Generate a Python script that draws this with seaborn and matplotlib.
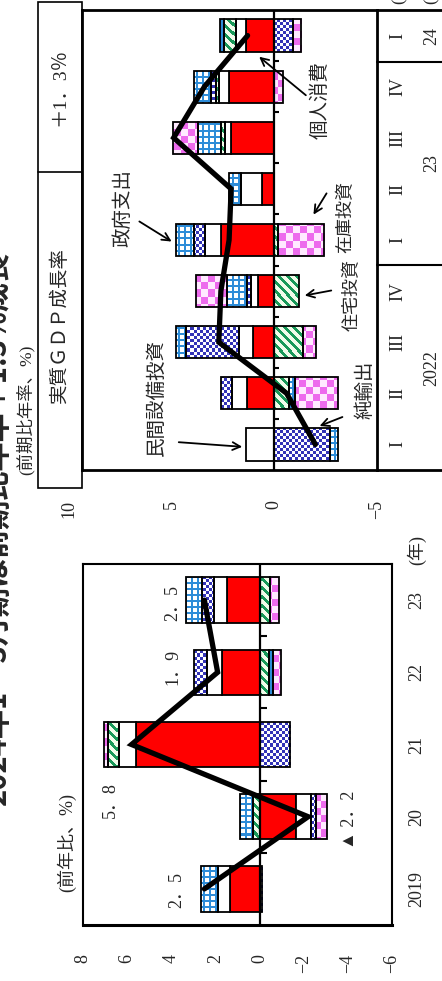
import numpy as np
import matplotlib
matplotlib.use('Agg')
import matplotlib.pyplot as plt
from matplotlib.lines import Line2D
from matplotlib.patches import Rectangle
import seaborn as sns

sns.set_theme(style='white')
plt.rcParams['font.family'] = ['Liberation Serif', 'Noto Sans CJK JP']
plt.rcParams['axes.edgecolor'] = 'black'

# ---- data (contributions to growth, %pt) ----
components = ['個人消費', '民間設備投資', '住宅投資', '純輸出', '政府支出', '在庫投資']

years = ['2019', '20', '21', '22', '23']
cons_y = [1.36, -1.66, 5.59, 1.70, 1.48]
capex_y = [0.53, -0.68, 0.76, 0.68, 0.60]
housing_y = [0.0, 0.30, 0.53, -0.41, -0.48]
netexp_y = [-0.12, -0.23, -1.36, 0.58, 0.53]
govt_y = [0.75, 0.57, 0.0, -0.21, 0.72]
inv_y = [0.0, -0.48, 0.15, -0.35, -0.38]
gdp_y = [2.5, -2.2, 5.8, 1.9, 2.5]
gdp_y_labels = ['2．5', '▲ 2．2', '5．8', '1．9', '2．5']

quarters = ['I', 'II', 'III', 'IV', 'I', 'II', 'III', 'IV', 'I']
quarter_years = ['2022', '23', '24']
cons_q = [0.0, 1.31, 1.06, 0.77, 2.61, 0.60, 2.12, 2.20, 1.36]
capex_q = [1.36, 0.76, 0.65, 0.37, 0.74, 1.03, 0.28, 0.49, 0.49]
housing_q = [0.0, -0.70, -1.39, -1.19, -0.16, 0.0, 0.21, 0.16, 0.60]
netexp_q = [-2.73, 0.54, 2.61, 0.21, 0.57, 0.0, 0.0, 0.25, -0.90]
govt_q = [-0.38, -0.33, 0.46, 0.93, 0.87, 0.57, 1.10, 0.82, 0.20]
inv_q = [0.0, -2.07, -0.62, 1.55, -2.24, 0.0, 1.24, -0.41, -0.41]
gdp_q = [-2.0, -0.6, 2.7, 2.6, 2.2, 2.1, 4.9, 3.4, 1.3]

# face colour or pattern for each component, in stacking order
styles = [('red', None), ('white', None), ('none', 'green'),
          ('none', 'navy'), ('none', 'grid'), ('none', 'pink')]

W, H = 442, 981
fig = plt.figure(figsize=(W / 100, H / 100), dpi=100)


def fp(x, y):
    # pixel position -> figure fraction
    return (x / W, 1 - y / H)


def pattern(kind, w, h):
    yy, xx = np.mgrid[0:h, 0:w]
    img = np.ones((h, w, 3))
    if kind == 'navy':
        mask = (xx // 3 + yy // 3) % 2 == 0
        fg, bg = (0.2, 0.2, 0.72), (1, 1, 1)
    elif kind == 'pink':
        mask = (xx // 7 + yy // 7) % 2 == 0
        fg, bg = (0.93, 0.42, 0.93), (1.0, 0.92, 1.0)
    elif kind == 'grid':
        mask = (xx % 6 < 2) | (yy % 6 < 2)
        fg, bg = (0.18, 0.55, 0.85), (1, 1, 1)
    else:
        mask = (xx - yy) % 9 < 4
        fg, bg = (0.1, 0.6, 0.35), (0.95, 0.99, 0.92)
    img[:] = bg
    img[mask] = fg
    return img


def stacked(ax, series, xlim, ylim, wpx, hpx):
    n = len(series[0])
    cats = np.arange(n)
    pos = np.zeros(n)
    neg = np.zeros(n)
    ext = (xlim[0], xlim[1], ylim[0], ylim[1])
    for vals, (face, kind) in zip(series, styles):
        vals = np.asarray(vals, float)
        left = np.where(vals >= 0, pos, neg)
        keep = vals != 0
        bars = ax.barh(cats[keep], vals[keep], left=left[keep], height=0.63,
                       color=face, edgecolor='black', linewidth=1.3, zorder=3)
        if kind is not None:
            img = pattern(kind, wpx, hpx)
            for b in bars:
                im = ax.imshow(img, extent=ext, aspect='auto',
                               interpolation='nearest', zorder=2)
                im.set_clip_path(b)
        pos += np.where(vals > 0, vals, 0)
        neg += np.where(vals < 0, vals, 0)
    return cats


# ---------- quarterly panel ----------
ql, qr, qt, qb = 82, 377, 10, 470
ax_q = fig.add_axes([ql / W, 1 - qb / H, (qr - ql) / W, (qb - qt) / H])
q_xlim, q_ylim = (9.36, -5.0), (-0.5, 8.5)
cats_q = stacked(ax_q, [cons_q, capex_q, housing_q, netexp_q, govt_q, inv_q],
                 q_xlim, q_ylim, qr - ql, qb - qt)
sns.lineplot(x=gdp_q, y=cats_q, sort=False, estimator=None, color='black',
             linewidth=3.8, ax=ax_q, zorder=6, solid_joinstyle='miter')
ax_q.axvline(0, color='black', lw=1.6, zorder=4)
ax_q.hlines(np.arange(0.5, 8.5), 0, -0.24, color='black', lw=1.5, zorder=4)
ax_q.set_xlim(q_xlim)
ax_q.set_ylim(q_ylim)
ax_q.set_yticks([])
ax_q.set_xticks([5])
ax_q.tick_params(axis='x', direction='in', length=6, width=1.5, labelbottom=False)
for s in ax_q.spines.values():
    s.set_linewidth(2)
ax_q.set_xlabel('')
ax_q.set_ylabel('')

for v, lab in zip([10, 5, 0, -5], ['10', '5', '0', '−5']):
    ax_q.text(v, -0.5 - 30 / 51.1, lab, rotation=90, ha='center', va='top',
              fontsize=13, clip_on=False)

# table under the quarterly chart
for i, q in enumerate(quarters):
    ax_q.text((398 - ql) / (qr - ql), i, q, transform=ax_q.get_yaxis_transform(),
              rotation=90, ha='center', va='center', fontsize=13)
for y, lab in zip([1.5, 5.5, 8.0], quarter_years):
    ax_q.text((432 - ql) / (qr - ql), y, lab, transform=ax_q.get_yaxis_transform(),
              rotation=90, ha='center', va='center', fontsize=13)
fig.add_artist(Line2D([qr / W, 1], [1 - qt / H] * 2, color='black', lw=2))
fig.add_artist(Line2D([qr / W, 1], [1 - qb / H] * 2, color='black', lw=2))
fig.add_artist(Line2D([qr / W, 1], [1 - 62 / H] * 2, color='black', lw=1.5))
fig.add_artist(Line2D([qr / W, 1], [1 - 265 / H] * 2, color='black', lw=1.5))
fig.text(*fp(398, -10), '(期)', rotation=90, ha='center', va='center', fontsize=12)
fig.text(*fp(430, -10), '(年)', rotation=90, ha='center', va='center', fontsize=12)

# header box
fig.add_artist(Rectangle(fp(38, 488), (82 - 38) / W, (488 - 2) / H, fill=False,
                         edgecolor='black', lw=1.2, transform=fig.transFigure))
fig.add_artist(Line2D([38 / W, 82 / W], [1 - 172 / H] * 2, color='black', lw=1.2))
fig.text(*fp(60, 87), '＋1．3％', rotation=90, ha='center', va='center', fontsize=14)
fig.text(*fp(60, 325), '実質ＧＤＰ成長率', rotation=90, ha='center', va='center', fontsize=14)
fig.text(*fp(25, 410), '(前期比年率、%)', rotation=90, ha='center', va='center', fontsize=12.5)
fig.text(*fp(-3, 528), '2024年1～3月期は前期比年率＋1.3%成長', rotation=90,
         ha='center', va='center', fontsize=21, fontweight='bold',
         family=['Noto Sans CJK JP'])

# component labels with arrows
label_pos = {'個人消費': (320, 100), '在庫投資': (346, 217), '政府支出': (123, 208),
             '住宅投資': (352, 295), '民間設備投資': (157, 397), '純輸出': (365, 390)}
label_size = {'在庫投資': 13, '住宅投資': 13}
arrows = {'個人消費': ((308, 97), (257, 55)), '在庫投資': ((328, 191), (312, 217)),
          '政府支出': ((137, 220), (174, 243)), '住宅投資': ((334, 290), (302, 296)),
          '民間設備投資': ((176, 442), (245, 447)), '純輸出': ((345, 416), (317, 427))}
for name in components:
    fig.text(*fp(*label_pos[name]), name, rotation=90, ha='center', va='center',
             fontsize=label_size.get(name, 14))
    tail, tip = arrows[name]
    fig.add_artist(matplotlib.patches.FancyArrowPatch(
        fp(*tail), fp(*tip), transform=fig.transFigure, arrowstyle='->',
        mutation_scale=14, lw=1.3, color='black'))

# ---------- annual panel ----------
al, ar, at, ab = 83, 392, 564, 925
ax_a = fig.add_axes([al / W, 1 - ab / H, (ar - al) / W, (ab - at) / H])
a_xlim, a_ylim = (8, -6), (-0.5, 4.5)
cats_y = stacked(ax_a, [cons_y, capex_y, housing_y, netexp_y, govt_y, inv_y],
                 a_xlim, a_ylim, ar - al, ab - at)
sns.lineplot(x=gdp_y, y=cats_y, sort=False, estimator=None, color='black',
             linewidth=3.8, ax=ax_a, zorder=6, solid_joinstyle='miter')
ax_a.axvline(0, color='black', lw=1.6, zorder=4)
ax_a.hlines(np.arange(0.5, 4.5), 0, -0.32, color='black', lw=1.5, zorder=4)
ax_a.set_xlim(a_xlim)
ax_a.set_ylim(a_ylim)
ax_a.set_yticks([])
ticks = [8, 6, 4, 2, 0, -2, -4, -6]
ax_a.set_xticks(ticks)
ax_a.set_xticklabels([str(t).replace('-', '−') for t in ticks], rotation=90, fontsize=13)
ax_a.tick_params(axis='x', direction='in', length=6, width=1.5, pad=21)
for s in ax_a.spines.values():
    s.set_linewidth(1.5)
ax_a.spines['bottom'].set_linewidth(2.2)
ax_a.set_xlabel('')
ax_a.set_ylabel('')

for i, yr in enumerate(years):
    ax_a.text((417 - al) / (ar - al), i, yr, transform=ax_a.get_yaxis_transform(),
              rotation=90, ha='center', va='center', fontsize=13)
fig.text(*fp(417, 550), '(年)', rotation=90, ha='center', va='center', fontsize=13)
fig.text(*fp(67, 843), '(前年比、%)', rotation=90, ha='center', va='center', fontsize=13)

val_label_pos = [(177, 890), (350, 820), (110, 800), (173, 667), (173, 603)]
for (x, y), lab in zip(val_label_pos, gdp_y_labels):
    fig.text(*fp(x, y), lab, rotation=90, ha='center', va='center', fontsize=13)

fig.savefig('out.png', dpi=100)
